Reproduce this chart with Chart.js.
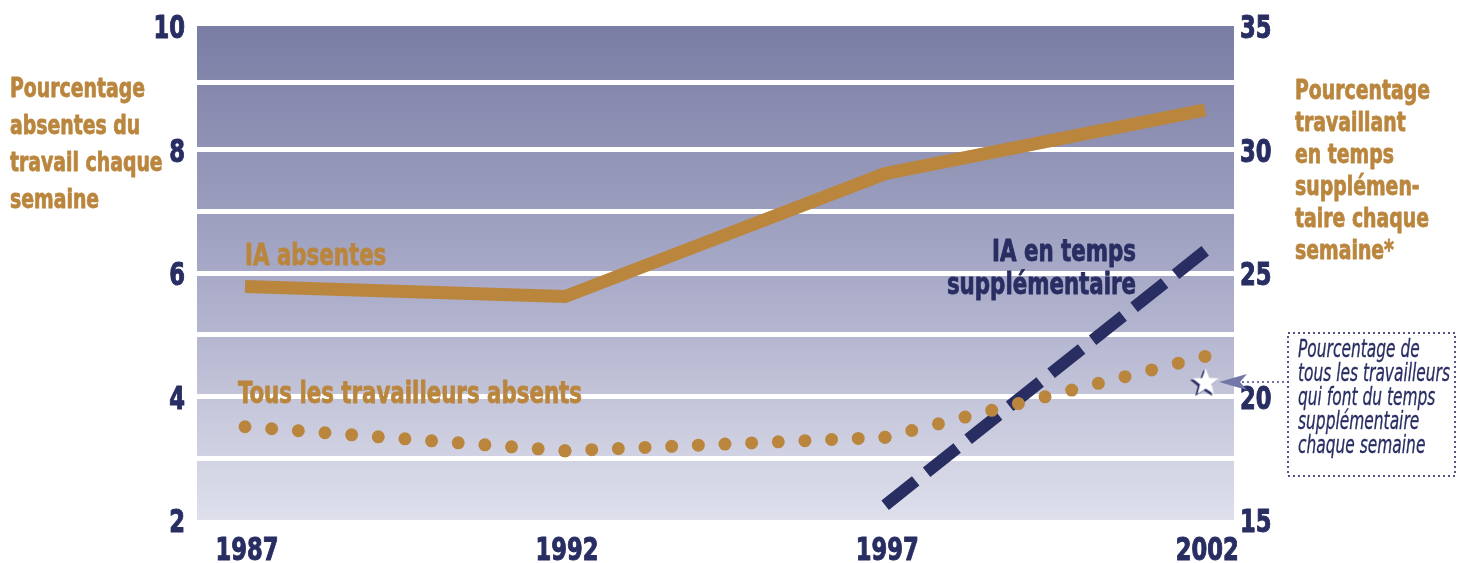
<!DOCTYPE html>
<html>
<head>
<meta charset="utf-8">
<script src="https://cdn.jsdelivr.net/npm/chart.js@4.4.1/dist/chart.umd.min.js"></script>
<style>
  html, body { margin: 0; padding: 0; background: #ffffff; }
  #wrap { width: 1458px; height: 563px; position: relative; }
</style>
</head>
<body>
<div id="wrap"><canvas id="c" width="1458" height="563"></canvas></div>
<script>
// ---- Data ----
const years = [1987, 1992, 1997, 2002];
const xTickLabels = [1987, 1992, 1997, 2002];
const iaAbsentes = [5.78, 5.62, 7.61, 8.64];          // left axis
const tousAbsents = [3.51, 3.12, 3.34, 4.65];         // left axis
const iaOvertimeYears = [1997, 2002];
const iaOvertime = [15.6, 25.9];                      // right axis
const tousOvertimeYears = [2002];
const tousOvertime = [20.56];                         // right axis (star)
const leftTicks = [2, 4, 6, 8, 10];
const rightTicks = [15, 20, 25, 30, 35];
const leftGridValues = [3, 4, 5, 6, 7, 8, 9.08];

const ORANGE = '#ba863e';
const NAVY = '#282d62';
const FONT = '"DejaVu Sans Condensed", "DejaVu Sans", sans-serif';

// star point image
function makeStar() {
  const c = document.createElement('canvas');
  c.width = 34; c.height = 34;
  const g = c.getContext('2d');
  function star(cx, cy, R, r) {
    g.beginPath();
    for (let i = 0; i < 10; i++) {
      const a = -Math.PI / 2 + i * Math.PI / 5;
      const rad = i % 2 === 0 ? R : r;
      const px = cx + rad * Math.cos(a), py = cy + rad * Math.sin(a);
      if (i === 0) g.moveTo(px, py); else g.lineTo(px, py);
    }
    g.closePath();
  }
  star(15.5, 18.5, 14.5, 6.2);
  g.fillStyle = NAVY; g.fill();
  star(17.5, 17, 14, 6);
  g.fillStyle = '#ffffff'; g.fill();
  return c;
}

function scaleFor(ctx, font, ref, target) {
  ctx.font = font;
  return target / ctx.measureText(ref).width;
}
function drawScaled(ctx, text, x, y, sx, align, thick) {
  ctx.save();
  ctx.translate(x, y);
  ctx.scale(sx, 1);
  ctx.textAlign = align || 'left';
  ctx.fillText(text, 0, 0);
  if (thick) {
    ctx.lineWidth = thick;
    ctx.lineJoin = 'round';
    ctx.strokeStyle = ctx.fillStyle;
    ctx.strokeText(text, 0, 0);
  }
  ctx.restore();
}

const bgPlugin = {
  id: 'bg',
  beforeDraw(chart) {
    const { ctx, chartArea: a } = chart;
    const grd = ctx.createLinearGradient(0, a.top, 0, a.bottom);
    grd.addColorStop(0, '#7a7da4');
    grd.addColorStop(0.5, '#a7a9c7');
    grd.addColorStop(1, '#dfe0ec');
    ctx.save();
    ctx.fillStyle = grd;
    ctx.fillRect(a.left, a.top, a.right - a.left, a.bottom - a.top);
    ctx.restore();
  },
  afterDraw(chart) {
    const ctx = chart.ctx;
    const sL = chart.scales.yL, sR = chart.scales.yR, sX = chart.scales.x;
    ctx.save();
    ctx.textBaseline = 'alphabetic';

    // tick labels (positions from the chart scales)
    const tf = 'bold 32px ' + FONT;
    const tsx = scaleFor(ctx, tf, '1987', 63);
    ctx.font = tf;
    ctx.fillStyle = NAVY;
    leftTicks.forEach(v => drawScaled(ctx, String(v), 185, sL.getPixelForValue(v) + 12, tsx, 'right', 1));
    rightTicks.forEach(v => drawScaled(ctx, String(v), 1240, sR.getPixelForValue(v) + 12, tsx, 'left', 1));
    xTickLabels.forEach(v => drawScaled(ctx, String(v), sX.getPixelForValue(v) + 2, 560, tsx, 'center', 1));

    // axis titles
    const af = 'bold 27px ' + FONT;
    const asx = scaleFor(ctx, af, 'Pourcentage', 135);
    ctx.font = af;
    ctx.fillStyle = ORANGE;
    ['Pourcentage', 'absentes du', 'travail chaque', 'semaine'].forEach((t, i) => drawScaled(ctx, t, 10, 97 + i * 37, asx, 'left', 0.8));
    ['Pourcentage', 'travaillant', 'en temps', 'supplémen-', 'taire chaque', 'semaine*'].forEach((t, i) => drawScaled(ctx, t, 1295, 99 + i * 32, asx, 'left', 0.8));

    // series labels
    const sf = 'bold 30px ' + FONT;
    const ssx = scaleFor(ctx, sf, 'Tous les travailleurs absents', 344);
    ctx.font = sf;
    drawScaled(ctx, 'IA absentes', 245, 265, ssx, 'left', 0.8);
    drawScaled(ctx, 'Tous les travailleurs absents', 238, 403, ssx, 'left', 0.8);
    ctx.fillStyle = NAVY;
    drawScaled(ctx, 'IA en temps', 1136, 261, ssx, 'right', 0.8);
    drawScaled(ctx, 'supplémentaire', 1136, 294, ssx, 'right', 0.8);

    // annotation box
    ctx.strokeStyle = '#50538a';
    ctx.lineWidth = 2;
    ctx.setLineDash([2, 3]);
    ctx.strokeRect(1288, 333, 167, 143);
    ctx.beginPath();
    ctx.strokeStyle = '#7376a6';
    ctx.moveTo(1242, 382); ctx.lineTo(1287, 382);
    ctx.stroke();
    ctx.setLineDash([]);
    ctx.fillStyle = '#7376a6';
    ctx.beginPath();
    ctx.moveTo(1219, 382);
    ctx.lineTo(1247, 374);
    ctx.lineTo(1240, 382);
    ctx.lineTo(1247, 390);
    ctx.closePath();
    ctx.fill();

    const nf = 'italic 24px ' + FONT;
    const nsx = scaleFor(ctx, nf, 'tous les travailleurs', 152);
    ctx.font = nf;
    ctx.fillStyle = NAVY;
    ['Pourcentage de', 'tous les travailleurs', 'qui font du temps', 'supplémentaire', 'chaque semaine']
      .forEach((t, i) => drawScaled(ctx, t, 1298, 357 + i * 24, nsx, 'left', 0.3));
    ctx.restore();
  }
};

new Chart(document.getElementById('c'), {
  type: 'line',
  data: {
    datasets: [
      {
        label: 'IA absentes',
        data: years.map((y, i) => ({ x: y, y: iaAbsentes[i] })),
        yAxisID: 'yL',
        borderColor: ORANGE,
        borderWidth: 13,
        borderCapStyle: 'butt',
        borderJoinStyle: 'miter',
        pointRadius: 0,
        tension: 0
      },
      {
        label: 'Tous les travailleurs absents',
        data: years.map((y, i) => ({ x: y, y: tousAbsents[i] })),
        yAxisID: 'yL',
        borderColor: ORANGE,
        borderWidth: 13,
        borderCapStyle: 'round',
        pointRadius: 0,
        tension: 0,
        segment: {
          borderDash: (ctx) => {
            const L = Math.hypot(ctx.p1.x - ctx.p0.x, ctx.p1.y - ctx.p0.y);
            return [0, L / 12 - 0.02];
          }
        }
      },
      {
        label: 'IA en temps supplémentaire',
        data: iaOvertimeYears.map((y, i) => ({ x: y, y: iaOvertime[i] })),
        yAxisID: 'yR',
        borderColor: NAVY,
        borderWidth: 12,
        borderCapStyle: 'butt',
        borderDash: [39, 14],
        pointRadius: 0,
        tension: 0
      },
      {
        label: 'Tous en temps supplémentaire',
        data: tousOvertimeYears.map((y, i) => ({ x: y, y: tousOvertime[i] })),
        yAxisID: 'yR',
        showLine: false,
        pointStyle: makeStar(),
        pointRadius: 14
      }
    ]
  },
  options: {
    responsive: false,
    animation: false,
    events: [],
    layout: { padding: { top: 26, left: 0, right: 0, bottom: 0 } },
    plugins: { legend: { display: false }, tooltip: { enabled: false } },
    scales: {
      x: {
        type: 'linear',
        min: 1986.25,
        max: 2002.45,
        afterBuildTicks: (s) => { s.ticks = xTickLabels.map(v => ({ value: v })); },
        afterFit: (s) => { s.height = 43; },
        grid: { display: false, drawTicks: false },
        border: { display: false },
        ticks: { display: false }
      },
      yL: {
        position: 'left',
        min: 2,
        max: 10,
        afterFit: (s) => { s.width = 197; },
        afterBuildTicks: (s) => { s.ticks = leftGridValues.map(v => ({ value: v })); },
        ticks: { display: false },
        grid: { drawTicks: false, lineWidth: 5, color: '#ffffff' },
        border: { display: false }
      },
      yR: {
        position: 'right',
        min: 15,
        max: 35,
        afterFit: (s) => { s.width = 224; },
        afterBuildTicks: (s) => { s.ticks = rightTicks.map(v => ({ value: v })); },
        ticks: { display: false },
        grid: { display: false, drawTicks: false },
        border: { display: false }
      }
    }
  },
  plugins: [bgPlugin]
});
</script>
</body>
</html>
